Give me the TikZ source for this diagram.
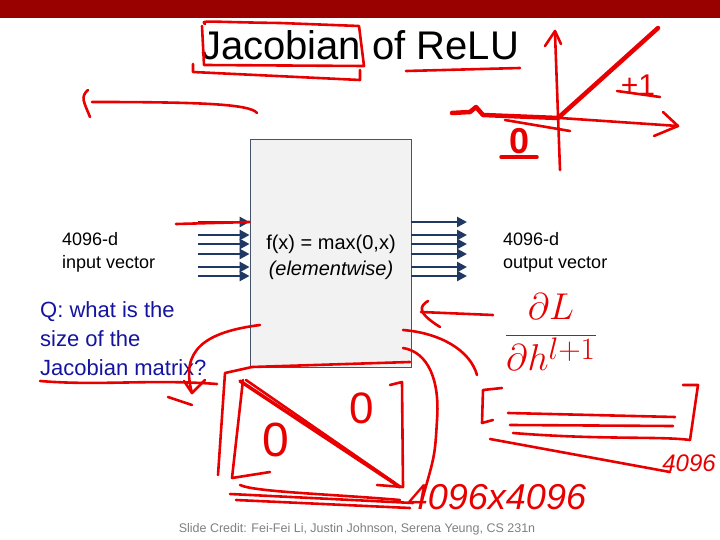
\documentclass[tikz,border=0pt]{standalone}
\usepackage{fontspec}
\setmainfont{Liberation Sans}
\usetikzlibrary{arrows.meta}
\definecolor{slidebar}{RGB}{153,0,0}
\definecolor{arrowblue}{RGB}{31,56,100}
\definecolor{boxedge}{RGB}{68,84,106}
\definecolor{boxfill}{RGB}{242,242,242}
\definecolor{qblue}{RGB}{20,20,160}
\definecolor{ink}{RGB}{232,0,0}
\definecolor{creditgray}{RGB}{128,128,128}
\tikzset{
  vecarrow/.style={arrowblue, line width=2.5pt, -{Triangle[length=10pt,width=10pt]}},
  inkline/.style={ink, line width=2.6pt, line cap=round, line join=round},
  inkthick/.style={inkline, line width=4.5pt},
  inktext/.style={ink, inner sep=0pt},
  labeltext/.style={font=\fontsize{18}{23}\selectfont, align=left, anchor=base west, inner sep=0pt}
}
\begin{document}
\begin{tikzpicture}[x=1pt, y=-1pt]
    \useasboundingbox (0,0) rectangle (720,540);
    \fill[slidebar] (0,0) rectangle (720,18);

    % title and box
    \node[font=\fontsize{40}{48}\selectfont, anchor=base, inner sep=0pt] (title) at (360,60) {Jacobian of ReLU};
    \node[draw=boxedge, fill=boxfill, line width=0.8pt, minimum width=161pt, minimum height=228pt,
          inner sep=0pt] (relu) at (330.5,253) {};
    \node[align=center, font=\fontsize{20}{26}\selectfont, inner sep=0pt] (relutext) at (331,257)
          {f(x) = max(0,x)\\\textit{(elementwise)}};

    % vectors in and out
    \foreach \y in {222,235,244,254,267,276} {
        \coordinate (in\y) at (198,\y);
        \coordinate (out\y) at (467,\y);
        \draw[vecarrow] (in\y) -- (in\y -| relu.west);
        \draw[vecarrow] (out\y -| relu.east) -- (out\y);
    }
    \node[labeltext] (inlabel) at (62,268) {4096-d\\input vector};
    \node[labeltext] (outlabel) at (503,268) {4096-d\\output vector};

    \node[labeltext, font=\fontsize{22}{29}\selectfont, text=qblue] (question) at (40,375)
        {Q: what is the\\size of the\\Jacobian matrix?};
    \node[font=\fontsize{12.5}{15}\selectfont, text=creditgray, anchor=base, inner sep=0pt] (credit) at (357,532)
        {Slide Credit: Fei-Fei Li, Justin Johnson, Serena Yeung, CS 231n};

    % ink: title
    \draw[inkline] (205,24) .. controls (200,20) and (206,22) .. (280,23) -- (359,26) -- (364,66) -- (204,65) -- (202,26);
    \draw[inkline] (193,64) -- (193,72) -- (360,80) -- (360,70);
    \draw[inkline] (406,71) -- (520,68);
    \draw[inkline] (257,113) .. controls (250,104) and (200,102) .. (92,102);
    \draw[inkline] (88,90) .. controls (80,97) and (84,102) .. (90,117);

    % ink: relu sketch
    \draw[inkline] (560,170) -- (555,33);
    \draw[inkline] (545,46) -- (555,31) -- (561,44);
    \draw[inkline] (560,118) -- (678,126);
    \draw[inkline] (663,112) -- (678,126) -- (654,136);
    \draw[inkthick] (452,113) -- (470,112) -- (476,107) -- (483,115) -- (558,118) -- (658,28);
    \draw[inkline] (505,120) -- (570,131);
    \node[inktext, font=\fontsize{30}{30}\selectfont] (plusone) at (638,85) {+1};
    \draw[inkline] (617,91) -- (660,97);
    \node[inktext, font=\fontsize{36}{36}\selectfont\bfseries] (zero) at (520,141) {0};
    \draw[inkthick, line width=3.5pt] (501,157) -- (537,157);

    % ink: over the input
    \draw[inkline] (176,224) -- (in222 -| relu.west);

    % ink: gradient
    \draw[inkline] (493,315) -- (421,312);
    \draw[inkline] (428,301) .. controls (420,306) and (416,312) .. (440,327);
    \node[inktext, font=\Huge, scale=1.5] (dldh) at (551,332) {$\displaystyle\frac{\partial L}{\partial h^{l+1}}$};
    \draw[inkline] (403,330) .. controls (440,333) and (470,350) .. (477,375);

    % ink: question
    \draw[inkline] (40,381) .. controls (100,386) and (150,379) .. (217,384);
    \draw[inkline] (260,325) .. controls (205,332) and (180,350) .. (192,393);
    \draw[inkline] (184,381) -- (192,393) -- (205,380);
    \draw[inkline] (168,397) -- (192,405);

    % ink: jacobian matrix
    \draw[inkline] (218,475) -- (225,373) -- (252,367) -- (410,362);
    \draw[inkline] (403,348) .. controls (428,352) and (440,380) .. (437,420)
        .. controls (435,455) .. (422,500);
    \draw[inkline] (243,380) -- (232,478) -- (270,472);
    \draw[inkthick, line width=3.5pt] (240,381) -- (400,487);
    \draw[inkline] (246,380) -- (395,483);
    \draw[inkline] (390,385) -- (402,382) -- (403,487) -- (377,485);
    \node[inktext, font=\fontsize{44}{44}\selectfont] (upperzero) at (362,408) {0};
    \node[inktext, font=\fontsize{48}{48}\selectfont] (lowerzero) at (276,440) {0};
    \draw[inkline] (240,485) .. controls (255,492) and (330,494) .. (400,500);
    \draw[inkline] (230,494) -- (413,503);
    \draw[inkline] (236,500) -- (410,508);
    \node[inktext, font=\fontsize{36}{36}\selectfont\itshape] (matsize) at (497,497) {4096x4096};

    % ink: row vector
    \draw[inkline] (502,388) -- (483,390) -- (482,423) -- (493,420);
    \draw[inkline] (508,413) -- (675,417);
    \draw[inkline] (510,425) -- (673,426);
    \draw[inkline] (513,433) .. controls (600,440) and (660,436) .. (690,440);
    \draw[inkline] (490,439) -- (670,472);
    \draw[inkline] (683,385) -- (698,385) -- (690,440);
    \node[inktext, font=\fontsize{24}{24}\selectfont\itshape] (vecsize) at (689,463) {4096};
\end{tikzpicture}
\end{document}
